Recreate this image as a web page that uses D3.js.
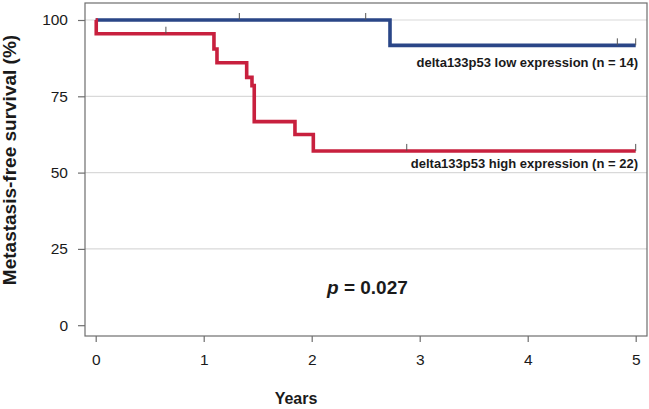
<!DOCTYPE html>
<html><head><meta charset="utf-8">
<script src="https://cdn.jsdelivr.net/npm/d3@7"></script>
<style>body{margin:0;background:#fff}svg{display:block}text{font-family:"Liberation Sans",Arial,sans-serif;fill:#1a1a1a}</style>
</head><body>
<svg id="c" width="649" height="409"></svg>
<script>
const xTicks = [0,1,2,3,4,5];
const yTicks = [0,25,50,75,100];
// Kaplan-Meier step points: [time (years), survival %]
const lowTimes  = [0, 2.725, 5.0];
const lowSurv   = [100, 91.7, 91.7];
const lowCensor = [1.33, 2.50, 4.83, 5.0];
const highTimes  = [0, 0.005, 1.095, 1.123, 1.398, 1.447, 1.468, 1.845, 2.015, 5.0];
const highSurv   = [100, 95.5, 90.5, 86.0, 81.2, 78.5, 66.7, 62.5, 57.1, 57.1];
const highCensor = [0.65, 2.88, 5.0];
const lowLabel = "delta133p53 low expression (n = 14)";
const highLabel = "delta133p53 high expression (n = 22)";

const svg = d3.select("#c");
const x = d3.scaleLinear().domain([0,5]).range([95.7,635.7]);
const y = d3.scaleLinear().domain([0,100]).range([325.2,20]);
const L=85, R=647, T=3, B=336;

// gridlines
svg.append("g").selectAll("line").data(yTicks.filter(d=>d>0)).join("line")
  .attr("x1",L).attr("x2",R).attr("y1",d=>y(d)).attr("y2",d=>y(d))
  .attr("stroke","#d9d9d9").attr("stroke-width",1.2);

// frame
svg.append("rect").attr("x",L).attr("y",T).attr("width",R-L).attr("height",B-T)
  .attr("fill","none").attr("stroke","#6e6e6e").attr("stroke-width",1.2);

// axes
const ya = svg.append("g").attr("transform",`translate(${L},0)`)
  .call(d3.axisLeft(y).tickValues(yTicks).tickSize(7).tickPadding(10).tickFormat(d3.format("d")));
const xa = svg.append("g").attr("transform",`translate(0,${B})`)
  .call(d3.axisBottom(x).tickValues(xTicks).tickSize(6).tickPadding(12).tickFormat(d3.format("d")));
[ya,xa].forEach(g=>{
  g.select(".domain").remove();
  g.selectAll("line").attr("stroke","#6e6e6e").attr("stroke-width",1.2);
  g.selectAll("text").attr("font-size",15.5).attr("fill","#1a1a1a").attr("font-family","Liberation Sans, Arial, sans-serif");
});

const line = d3.line().curve(d3.curveStepAfter).x(d=>x(d[0])).y(d=>y(d[1]));
function survAt(times,surv,t){let v=surv[0];for(let i=0;i<times.length;i++){if(times[i]<=t)v=surv[i];}return v;}

function drawCurve(times,surv,cens,color){
  const pts = times.map((t,i)=>[t,surv[i]]);
  svg.append("path").datum(pts).attr("d",line).attr("fill","none")
    .attr("stroke",color).attr("stroke-width",3.6).attr("stroke-linejoin","miter").attr("stroke-linecap","butt");
  svg.append("g").selectAll("line").data(cens).join("line")
    .attr("x1",d=>x(d)).attr("x2",d=>x(d))
    .attr("y1",d=>y(survAt(times,surv,d))).attr("y2",d=>y(survAt(times,surv,d))-7)
    .attr("stroke","#555").attr("stroke-width",1);
}
drawCurve(lowTimes,lowSurv,lowCensor,"#2a4687");
drawCurve(highTimes,highSurv,highCensor,"#c8203e");

// labels
svg.append("text").attr("x",638).attr("y",67).attr("text-anchor","end")
  .attr("font-size",13).attr("font-weight","bold").text(lowLabel);
svg.append("text").attr("x",638).attr("y",168).attr("text-anchor","end")
  .attr("font-size",13).attr("font-weight","bold").text(highLabel);

const pt = svg.append("text").attr("x",327).attr("y",294).attr("font-size",19).attr("font-weight","bold");
pt.append("tspan").attr("font-style","italic").text("p");
pt.append("tspan").text(" = 0.027");

svg.append("text").attr("x",296).attr("y",404).attr("text-anchor","middle")
  .attr("font-size",16).attr("font-weight","bold").text("Years");
svg.append("text").attr("transform","translate(16,160) rotate(-90)").attr("text-anchor","middle")
  .attr("font-size",19).attr("font-weight","bold").text("Metastasis-free survival (%)");
</script>
</body></html>
